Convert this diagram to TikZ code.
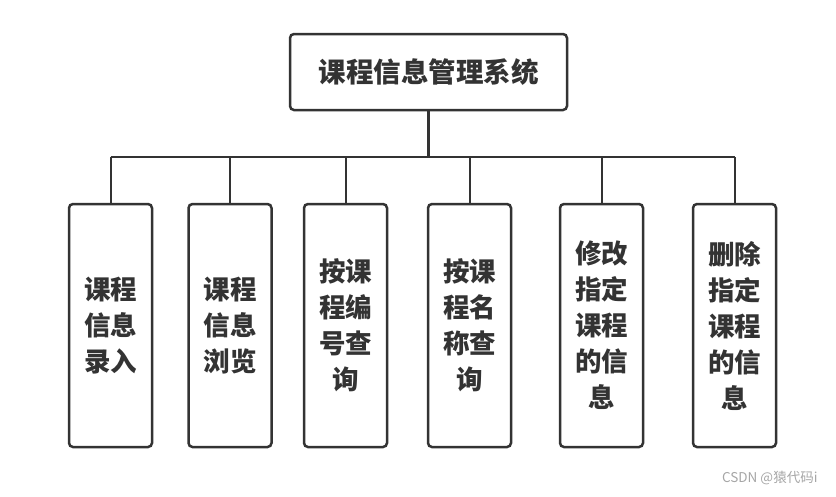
\documentclass[tikz,border=0pt]{standalone}
\usepackage{fontspec}
\newfontfamily\cjk{Noto Sans CJK SC}
\usetikzlibrary{positioning}
\definecolor{inkgray}{HTML}{333333}
\tikzset{
    % box for the system
    rootbox/.style={
           draw=inkgray, line width=2.5pt, rounded corners=4pt,
           minimum width=277pt, minimum height=76pt,
           text=inkgray, font=\cjk\bfseries\fontsize{27.5}{32}\selectfont},
    % boxes for the functions
    leafbox/.style={
           draw=inkgray, line width=2.5pt, rounded corners=4pt,
           minimum width=83pt, minimum height=243pt, align=center,
           text=inkgray, font=\cjk\bfseries\fontsize{26.5}{36}\selectfont},
    % connector styles
    link/.style={draw=inkgray, line width=2pt},
    stem/.style={draw=inkgray, line width=3pt}
}
\begin{document}
\begin{tikzpicture}[x=1pt, y=-1pt]
    \useasboundingbox (0,0) rectangle (836,496);
    % system box
    \node[rootbox](sys) at (428.5,72){课程信息管理系统};
    \coordinate (bus) at (428.5,157);

    % function boxes
    \node[leafbox](entry)  at (110.5,325.5){课程\\信息\\录入};
    \node[leafbox](browse) at (230,325.5){课程\\信息\\浏览};
    \node[leafbox](byno)   at (345.5,325.5){按课\\程编\\号查\\询};
    \node[leafbox](byname) at (469.5,325.5){按课\\程名\\称查\\询};
    \node[leafbox](modify) at (601.5,325.5){修改\\指定\\课程\\的信\\息};
    \node[leafbox](delete) at (734.5,325.5){删除\\指定\\课程\\的信\\息};

    % edges
    \draw[stem] (sys.south) -- (bus);
    \draw[link] (entry.north |- bus) -- (delete.north |- bus);
    \foreach \f in {entry,browse,byno,byname,modify,delete}
        \draw[link] (\f.north |- bus) -- (\f.north);

    % watermark
    \node[anchor=east, text=gray!70, font=\cjk\fontsize{13.5}{16}\selectfont](mark) at (821,478){CSDN @猿代码i};
\end{tikzpicture}
\end{document}
